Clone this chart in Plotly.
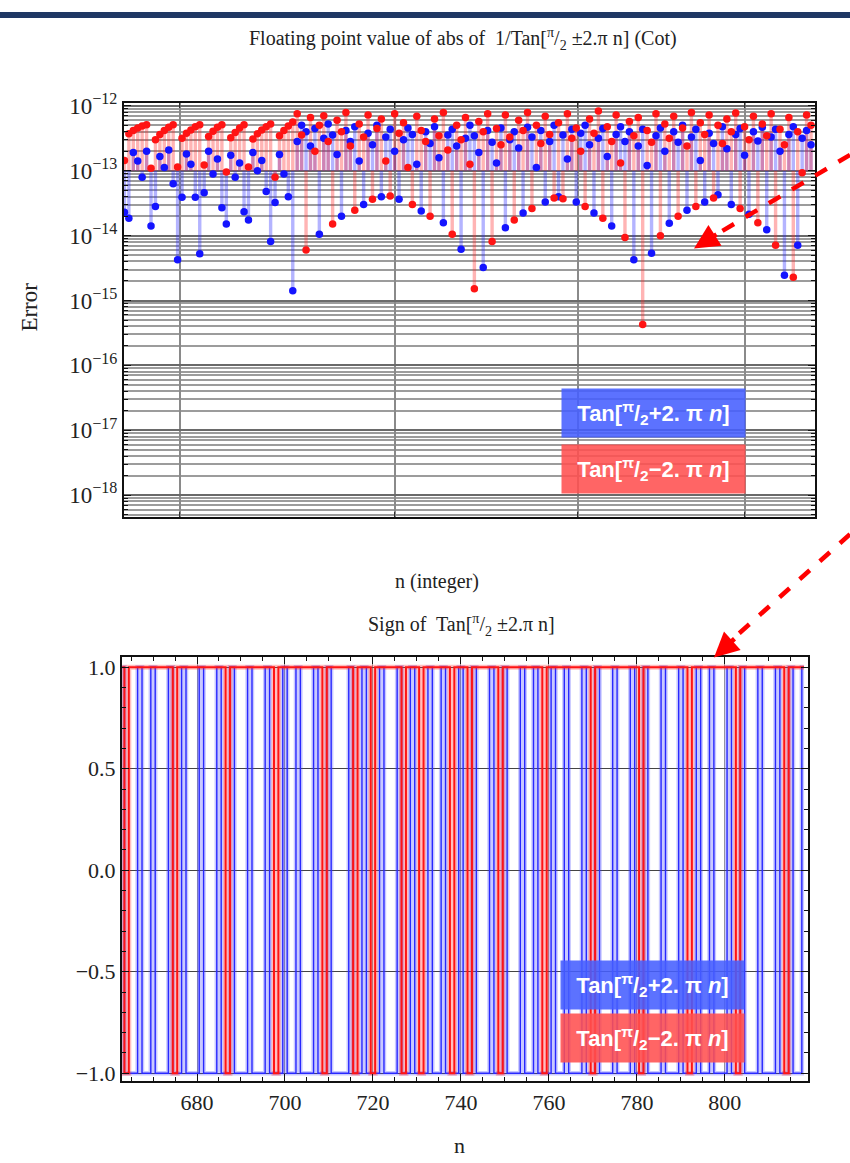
import plotly.graph_objects as go

W, H = 850, 1163

# ---------------- data ----------------
n_vals = list(range(663, 819))

# log10 of |error| (n = 663 ... 818)
red_log10_err = [
    -12.84, -12.43, -12.38, -12.34, -12.31, -12.29, -12.96, -12.52, -12.44, -12.38,
    -12.33, -12.29, -12.94, -12.50, -12.42, -12.37, -12.32, -12.29, -12.91, -12.47,
    -12.39, -12.33, -12.29, -13.02, -12.49, -12.41, -12.34, -12.29, -12.94, -12.51,
    -12.43, -12.37, -12.32, -12.28, -13.10, -12.46, -12.38, -12.31, -12.25, -12.12,
    -12.45, -14.22, -12.18, -12.70, -12.30, -12.15, -12.55, -13.82, -12.22, -12.40,
    -12.10, -12.62, -13.61, -12.28, -12.48, -12.14, -13.44, -12.35, -12.20, -12.85,
    -13.39, -12.12, -12.42, -12.26, -12.95, -13.52, -12.16, -12.38, -12.55, -13.70,
    -12.20, -12.46, -12.10, -12.68, -13.98, -12.30, -12.52, -12.18, -12.90, -14.82,
    -12.24, -12.40, -12.12, -14.09, -12.35, -12.60, -12.14, -12.48, -13.76, -12.22,
    -12.38, -12.10, -13.58, -12.30, -12.58, -12.16, -12.44, -13.42, -12.26, -13.43,
    -12.12, -12.50, -12.34, -12.70, -13.55, -12.20, -12.42, -12.08, -13.73, -12.32,
    -12.55, -12.14, -12.88, -14.03, -12.24, -12.46, -12.18, -15.37, -12.38, -12.56,
    -12.12, -14.00, -12.28, -12.50, -12.16, -13.70, -12.34, -12.62, -12.10, -13.55,
    -12.26, -12.44, -12.14, -13.42, -12.30, -12.58, -12.20, -12.40, -12.11, -13.58,
    -12.32, -12.52, -12.16, -13.80, -12.28, -12.46, -12.12, -14.15, -12.36, -12.60,
    -12.18, -14.64, -12.40, -13.03, -12.14, -12.30,
]
blue_log10_err = [
    -13.64, -13.73, -12.72, -12.85, -13.10, -12.70, -13.85, -13.55, -12.78, -12.95,
    -12.68, -13.20, -14.37, -13.41, -12.74, -12.90, -13.41, -14.28, -13.34, -12.70,
    -13.05, -12.82, -13.57, -13.82, -12.76, -13.10, -12.88, -13.63, -13.76, -12.72,
    -13.00, -12.84, -13.32, -14.09, -13.49, -12.75, -13.05, -13.40, -14.85, -12.55,
    -12.30, -12.40, -12.62, -12.35, -13.98, -12.50, -12.28, -12.45, -12.75, -13.70,
    -12.38, -12.55, -12.32, -12.85, -13.52, -12.42, -12.60, -12.30, -13.40, -12.48,
    -12.36, -12.70, -13.44, -12.52, -12.34, -12.44, -12.90, -13.62, -12.40, -12.58,
    -12.32, -12.80, -13.80, -12.45, -12.36, -12.62, -14.21, -12.50, -12.30, -12.46,
    -12.72, -14.49, -12.38, -12.56, -12.88, -12.34, -13.88, -12.52, -12.40, -12.65,
    -13.65, -12.33, -12.48, -12.95, -12.38, -13.48, -12.55, -12.30, -13.40, -12.45,
    -12.82, -12.36, -13.48, -12.42, -12.30, -12.60, -13.65, -12.50, -12.35, -12.78,
    -13.85, -12.44, -12.32, -12.55, -12.40, -14.37, -12.62, -12.36, -12.92, -14.27,
    -12.46, -12.34, -12.70, -13.81, -12.40, -12.56, -12.30, -13.61, -12.48, -12.36,
    -12.84, -13.48, -12.42, -12.58, -13.37, -12.32, -12.66, -13.52, -12.44, -12.35,
    -12.76, -13.67, -12.40, -12.54, -12.33, -13.91, -12.48, -12.36, -12.70, -14.61,
    -12.44, -12.32, -14.15, -12.50, -12.38, -12.60,
]

# sign values (n = 663 ... 818)
blue_sign = [
    1, -1, -1, -1, 1, -1, -1, 1, -1, -1,
    -1, 1, -1, -1, 1, -1, -1, -1, 1, -1,
    -1, -1, 1, -1, -1, 1, -1, -1, -1, 1,
    -1, -1, -1, 1, -1, -1, -1, 1, -1, -1,
    1, -1, -1, -1, 1, -1, -1, 1, -1, -1,
    -1, -1, 1, -1, -1, 1, -1, -1, -1, 1,
    -1, -1, -1, 1, -1, -1, 1, -1, -1, -1,
    1, -1, -1, 1, -1, -1, -1, 1, -1, -1,
    1, -1, -1, -1, 1, -1, -1, 1, -1, -1,
    -1, 1, -1, -1, 1, -1, -1, -1, 1, -1,
    -1, 1, -1, -1, -1, 1, -1, -1, 1, -1,
    -1, -1, 1, -1, -1, -1, 1, -1, -1, 1,
    -1, -1, -1, 1, -1, -1, -1, 1, -1, -1,
    -1, 1, -1, -1, 1, -1, -1, -1, 1, -1,
    -1, 1, -1, -1, -1, 1, -1, -1, -1, 1,
    -1, -1, 1, -1, -1, 1,
]
red_sign = [
    1, -1, 1, 1, 1, 1, 1, 1, 1, 1,
    1, 1, -1, 1, 1, 1, 1, 1, 1, 1,
    1, 1, 1, 1, -1, 1, 1, 1, 1, 1,
    1, 1, 1, 1, 1, -1, 1, 1, 1, 1,
    1, 1, 1, 1, 1, 1, -1, 1, 1, 1,
    1, 1, 1, -1, 1, 1, 1, -1, 1, 1,
    1, 1, 1, 1, -1, 1, 1, 1, -1, 1,
    1, 1, 1, 1, 1, -1, 1, 1, 1, -1,
    1, 1, 1, 1, 1, 1, -1, 1, 1, 1,
    1, 1, 1, 1, 1, 1, -1, 1, 1, 1,
    1, 1, 1, 1, 1, 1, 1, -1, 1, 1,
    1, 1, 1, 1, 1, 1, 1, 1, -1, 1,
    1, 1, 1, 1, 1, 1, 1, 1, 1, -1,
    1, 1, 1, 1, 1, 1, 1, 1, 1, 1,
    -1, 1, 1, 1, 1, 1, 1, 1, 1, 1,
    1, -1, 1, 1, 1, 1,
]

top_grid_n = [675.5, 724, 765.3, 803]
bottom_ticks = [680, 700, 720, 740, 760, 780, 800]
sign_ticks = [-1.0, -0.5, 0.0, 0.5, 1.0]
sign_ticktext = ["\u22121.0", "\u22120.5", "0.0", "0.5", "1.0"]
decades = [-18, -17, -16, -15, -14, -13, -12]

red_err = [10 ** v for v in red_log10_err]
blue_err = [10 ** v for v in blue_log10_err]

BLUE = "rgb(20,20,255)"
RED = "rgb(255,20,20)"
SERIF = "Liberation Serif"

def px(x):
    return x / W

def py(y):
    return 1 - y / H

fig = go.Figure()

# ---------------- top panel: stems (filling to axis) ----------------
base = 1e-13

def stems(xs, ys):
    sx, sy = [], []
    for x, y in zip(xs, ys):
        sx += [x, x, None]
        sy += [base, y, None]
    return sx, sy

bx, by = stems(n_vals, blue_err)
rx, ry = stems(n_vals, red_err)
fig.add_trace(go.Scatter(x=bx, y=by, mode="lines", line=dict(color="rgba(40,40,255,0.35)", width=3.4),
                         hoverinfo="skip", showlegend=False, xaxis="x", yaxis="y"))
fig.add_trace(go.Scatter(x=rx, y=ry, mode="lines", line=dict(color="rgba(255,40,40,0.35)", width=3.4),
                         hoverinfo="skip", showlegend=False, xaxis="x", yaxis="y"))
fig.add_trace(go.Scatter(x=n_vals, y=blue_err, mode="markers", marker=dict(color=BLUE, size=7.5),
                         showlegend=False, xaxis="x", yaxis="y"))
fig.add_trace(go.Scatter(x=n_vals, y=red_err, mode="markers", marker=dict(color=RED, size=7.5),
                         showlegend=False, xaxis="x", yaxis="y"))

# ---------------- bottom panel: sign ----------------
fig.add_trace(go.Scatter(x=n_vals, y=blue_sign, mode="lines", line=dict(color="rgba(60,60,255,0.28)", width=4.5, shape="hvh"),
                         hoverinfo="skip", showlegend=False, xaxis="x2", yaxis="y2"))
fig.add_trace(go.Scatter(x=n_vals, y=blue_sign, mode="lines", line=dict(color="rgb(40,40,255)", width=1.4, shape="hvh"),
                         showlegend=False, xaxis="x2", yaxis="y2"))
fig.add_trace(go.Scatter(x=n_vals, y=red_sign, mode="lines", line=dict(color="rgba(255,40,40,0.3)", width=5, shape="hvh"),
                         hoverinfo="skip", showlegend=False, xaxis="x2", yaxis="y2"))
fig.add_trace(go.Scatter(x=n_vals, y=red_sign, mode="lines", line=dict(color="rgb(255,20,20)", width=2, shape="hvh"),
                         showlegend=False, xaxis="x2", yaxis="y2"))

minor_vals = []
for d in range(-19, -11):
    for k in range(2, 10):
        minor_vals.append(k * 10.0 ** d)

tick_font = dict(family=SERIF, size=22, color="#222")

fig.update_layout(
    width=W, height=H,
    margin=dict(l=0, r=0, t=0, b=0),
    paper_bgcolor="white", plot_bgcolor="white",
    xaxis=dict(domain=[px(124), px(815)], range=[662.9, 818.9], anchor="y", tickmode="array",
               tickvals=top_grid_n, showticklabels=False, ticks="inside", ticklen=5, tickcolor="#333",
               showgrid=True, gridcolor="#8a8a8a", gridwidth=1.6, showline=True, linecolor="#111",
               linewidth=2, mirror="allticks", zeroline=False),
    yaxis=dict(domain=[py(512), py(92)], anchor="x", type="log", range=[-18.33, -11.95], tickmode="array",
               tickvals=[10.0 ** d for d in decades],
               ticktext=["10<sup>\u2212%d</sup>" % (-d) for d in decades],
               tickfont=dict(family=SERIF, size=23, color="#222"), ticks="inside", ticklen=7,
               tickcolor="#111", showgrid=True, gridcolor="#6a6a6a", gridwidth=2.2, showline=True,
               linecolor="#111", linewidth=2, mirror="allticks", zeroline=False,
               minor=dict(tickmode="array", tickvals=minor_vals, ticks="inside", ticklen=4,
                          tickcolor="#111", showgrid=True, gridcolor="#9c9c9c", gridwidth=1.5)),
    xaxis2=dict(domain=[px(122), px(808)], range=[662.95, 818.9], anchor="y2", tickmode="array",
                tickvals=bottom_ticks, ticktext=[str(t) for t in bottom_ticks], tickfont=tick_font,
                ticks="inside", ticklen=7, tickcolor="#111", showgrid=True, gridcolor="#999",
                gridwidth=1.2, showline=True, linecolor="#111", linewidth=2, mirror="allticks",
                zeroline=False,
                minor=dict(dtick=5, tick0=0, ticks="inside", ticklen=4, tickcolor="#111", showgrid=False)),
    yaxis2=dict(domain=[py(1085), py(655)], range=[-1.039, 1.0485], anchor="x2", tickmode="array",
                tickvals=sign_ticks, ticktext=sign_ticktext, tickfont=tick_font, ticks="inside",
                ticklen=7, tickcolor="#111", showgrid=True, gridcolor="#444", gridwidth=1.3,
                showline=True, linecolor="#111", linewidth=2, mirror="allticks", zeroline=False,
                minor=dict(dtick=0.1, tick0=0, ticks="inside", ticklen=4, tickcolor="#111", showgrid=False)),
)

ann = []
def text(x, y, s, size=18, angle=0, family=SERIF, color="#222"):
    ann.append(dict(x=px(x), y=py(y), xref="paper", yref="paper", text=s, showarrow=False,
                    font=dict(family=family, size=size, color=color), textangle=angle,
                    xanchor="center", yanchor="middle"))

text(463, 27, "Floating point value of abs of  1/Tan[<sup>\u03c0</sup>/<sub>2</sub> \u00b12.\u03c0 n] (Cot)", size=20)
text(30, 300, "Error", size=23, angle=-90)
text(437, 578, "n (integer)", size=20)
text(461, 622, "Sign of  Tan[<sup>\u03c0</sup>/<sub>2</sub> \u00b12.\u03c0 n]", size=20)
text(460, 1150, "n", size=22)

def legend_box(cx, cy, s, bg):
    ann.append(dict(x=px(cx), y=py(cy), xref="paper", yref="paper", text=s, showarrow=False,
                    font=dict(family="Liberation Sans", size=22, color="white"), bgcolor=bg,
                    width=181, height=46, borderpad=1, xanchor="center", yanchor="middle", align="center"))

plus_txt = "<b>Tan[<sup>\u03c0</sup>/<sub>2</sub>+2. \u03c0 <i>n</i>]</b>"
minus_txt = "<b>Tan[<sup>\u03c0</sup>/<sub>2</sub>\u22122. \u03c0 <i>n</i>]</b>"
legend_box(653.5, 407, plus_txt, "rgba(70,95,255,0.88)")
legend_box(653.5, 464, minus_txt, "rgba(255,80,80,0.88)")
legend_box(652.5, 987, plus_txt, "rgba(70,95,255,0.88)")
legend_box(652.5, 1041, minus_txt, "rgba(255,80,80,0.88)")

# red dashed pointer arrows
for (x0, y0, x1, y1, hx, hy, ax, ay) in [(850, 145, 716, 226, 694, 240, 24, -15),
                                          (850, 530, 732, 637, 714, 655, 22, -20)]:
    fig.add_shape(type="line", xref="paper", yref="paper", x0=px(x0), y0=py(y0), x1=px(x1), y1=py(y1),
                  line=dict(color="rgb(255,0,0)", width=4.5, dash="dash"))
    ann.append(dict(x=px(hx), y=py(hy), xref="paper", yref="paper", ax=ax, ay=ay, text="",
                    showarrow=True, arrowhead=2, arrowsize=1.1, arrowwidth=4.5, arrowcolor="rgb(255,0,0)"))

# slide header bar
fig.add_shape(type="rect", xref="paper", yref="paper", x0=0, x1=1, y0=py(6), y1=1,
              line=dict(width=0), fillcolor="#1f3864")

fig.update_layout(annotations=ann)
fig.write_html("out.html")
